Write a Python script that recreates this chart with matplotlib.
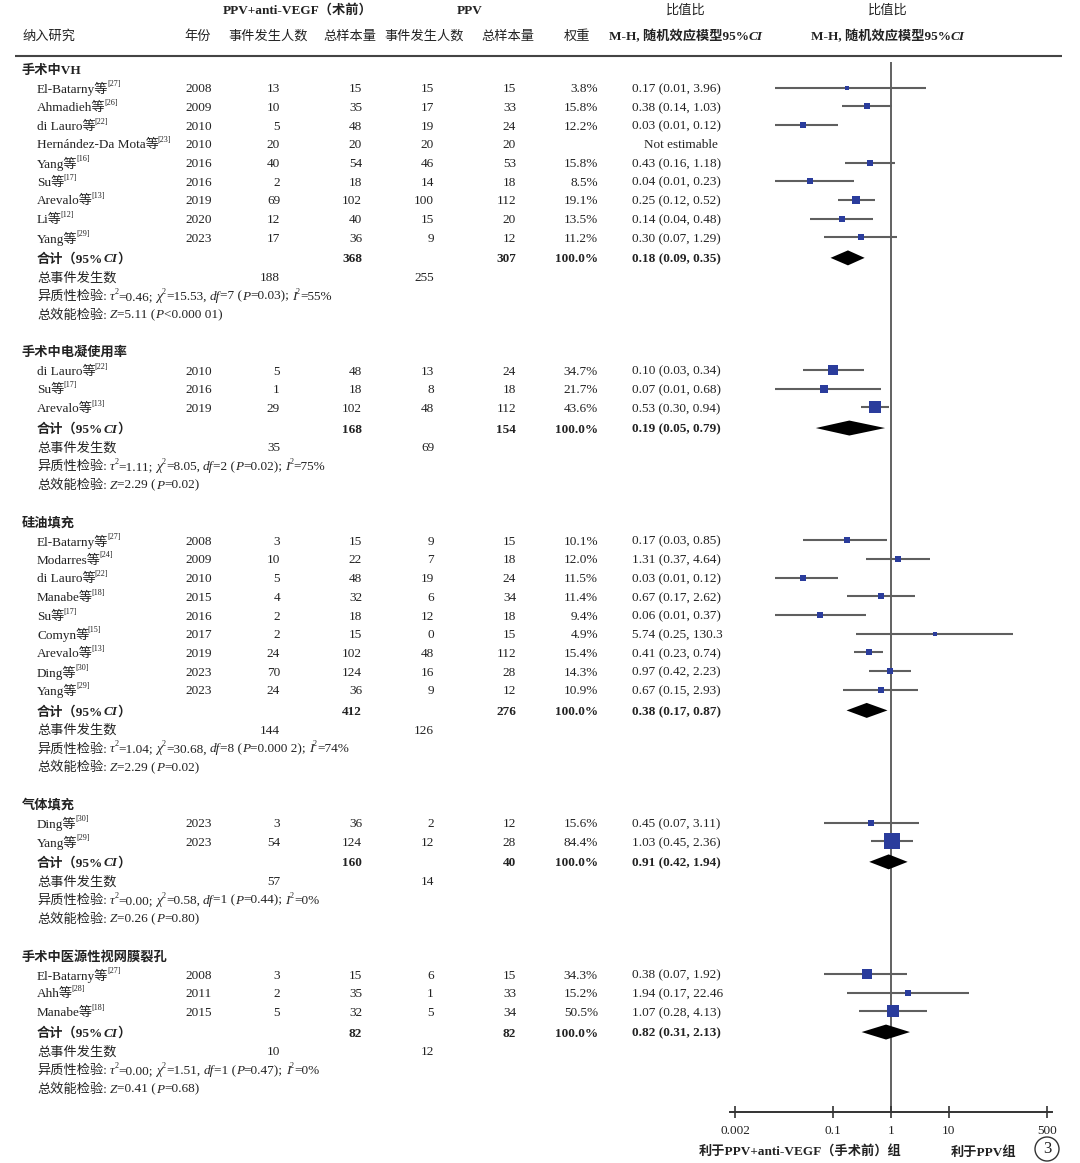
import matplotlib
matplotlib.use('Agg')
import matplotlib.pyplot as plt
from matplotlib.ticker import NullLocator
from matplotlib.patches import Circle

# ---------------- data ----------------
section_titles = ["手术中VH", "手术中电凝使用率", "硅油填充", "气体填充", "手术中医源性视网膜裂孔"]

s1_names = ["El-Batarny", "Ahmadieh", "di Lauro", "Hernández-Da Mota", "Yang", "Su", "Arevalo", "Li", "Yang"]
s1_refs = ["27", "26", "22", "23", "16", "17", "13", "12", "29"]
s1_years = [2008, 2009, 2010, 2010, 2016, 2016, 2019, 2020, 2023]
s1_ev1 = [13, 10, 5, 20, 40, 2, 69, 12, 17]
s1_n1 = [15, 35, 48, 20, 54, 18, 102, 40, 36]
s1_ev2 = [15, 17, 19, 20, 46, 14, 100, 15, 9]
s1_n2 = [15, 33, 24, 20, 53, 18, 112, 20, 12]
s1_w = [3.8, 15.8, 12.2, None, 15.8, 8.5, 19.1, 13.5, 11.2]
s1_or = [0.17, 0.38, 0.03, None, 0.43, 0.04, 0.25, 0.14, 0.30]
s1_lo = [0.01, 0.14, 0.01, None, 0.16, 0.01, 0.12, 0.04, 0.07]
s1_hi = [3.96, 1.03, 0.12, None, 1.18, 0.23, 0.52, 0.48, 1.29]
s1_pool = (0.18, 0.09, 0.35)
s1_het = ("0.46", "15.53", "7", "0.03", "55%")
s1_z = ("5.11", "<0.000 01")

s2_names = ["di Lauro", "Su", "Arevalo"]
s2_refs = ["22", "17", "13"]
s2_years = [2010, 2016, 2019]
s2_ev1 = [5, 1, 29]
s2_n1 = [48, 18, 102]
s2_ev2 = [13, 8, 48]
s2_n2 = [24, 18, 112]
s2_w = [34.7, 21.7, 43.6]
s2_or = [0.10, 0.07, 0.53]
s2_lo = [0.03, 0.01, 0.30]
s2_hi = [0.34, 0.68, 0.94]
s2_pool = (0.19, 0.05, 0.79)
s2_het = ("1.11", "8.05", "2", "0.02", "75%")
s2_z = ("2.29", "=0.02")

s3_names = ["El-Batarny", "Modarres", "di Lauro", "Manabe", "Su", "Comyn", "Arevalo", "Ding", "Yang"]
s3_refs = ["27", "24", "22", "18", "17", "15", "13", "30", "29"]
s3_years = [2008, 2009, 2010, 2015, 2016, 2017, 2019, 2023, 2023]
s3_ev1 = [3, 10, 5, 4, 2, 2, 24, 70, 24]
s3_n1 = [15, 22, 48, 32, 18, 15, 102, 124, 36]
s3_ev2 = [9, 7, 19, 6, 12, 0, 48, 16, 9]
s3_n2 = [15, 18, 24, 34, 18, 15, 112, 28, 12]
s3_w = [10.1, 12.0, 11.5, 11.4, 9.4, 4.9, 15.4, 14.3, 10.9]
s3_or = [0.17, 1.31, 0.03, 0.67, 0.06, 5.74, 0.41, 0.97, 0.67]
s3_lo = [0.03, 0.37, 0.01, 0.17, 0.01, 0.25, 0.23, 0.42, 0.15]
s3_hi = [0.85, 4.64, 0.12, 2.62, 0.37, 130.3, 0.74, 2.23, 2.93]
s3_pool = (0.38, 0.17, 0.87)
s3_het = ("1.04", "30.68", "8", "0.000 2", "74%")
s3_z = ("2.29", "=0.02")

s4_names = ["Ding", "Yang"]
s4_refs = ["30", "29"]
s4_years = [2023, 2023]
s4_ev1 = [3, 54]
s4_n1 = [36, 124]
s4_ev2 = [2, 12]
s4_n2 = [12, 28]
s4_w = [15.6, 84.4]
s4_or = [0.45, 1.03]
s4_lo = [0.07, 0.45]
s4_hi = [3.11, 2.36]
s4_pool = (0.91, 0.42, 1.94)
s4_het = ("0.00", "0.58", "1", "0.44", "0%")
s4_z = ("0.26", "=0.80")

s5_names = ["El-Batarny", "Ahh", "Manabe"]
s5_refs = ["27", "28", "18"]
s5_years = [2008, 2011, 2015]
s5_ev1 = [3, 2, 5]
s5_n1 = [15, 35, 32]
s5_ev2 = [6, 1, 5]
s5_n2 = [15, 33, 34]
s5_w = [34.3, 15.2, 50.5]
s5_or = [0.38, 1.94, 1.07]
s5_lo = [0.07, 0.17, 0.28]
s5_hi = [1.92, 22.46, 4.13]
s5_pool = (0.82, 0.31, 2.13)
s5_het = ("0.00", "1.51", "1", "0.47", "0%")
s5_z = ("0.41", "=0.68")

tick_values = [0.002, 0.1, 1, 10, 500]
tick_labels = ["0.002", "0.1", "1", "10", "500"]

sections = [
    (s1_names, s1_refs, s1_years, s1_ev1, s1_n1, s1_ev2, s1_n2, s1_w, s1_or, s1_lo, s1_hi, s1_pool, s1_het, s1_z),
    (s2_names, s2_refs, s2_years, s2_ev1, s2_n1, s2_ev2, s2_n2, s2_w, s2_or, s2_lo, s2_hi, s2_pool, s2_het, s2_z),
    (s3_names, s3_refs, s3_years, s3_ev1, s3_n1, s3_ev2, s3_n2, s3_w, s3_or, s3_lo, s3_hi, s3_pool, s3_het, s3_z),
    (s4_names, s4_refs, s4_years, s4_ev1, s4_n1, s4_ev2, s4_n2, s4_w, s4_or, s4_lo, s4_hi, s4_pool, s4_het, s4_z),
    (s5_names, s5_refs, s5_years, s5_ev1, s5_n1, s5_ev2, s5_n2, s5_w, s5_or, s5_lo, s5_hi, s5_pool, s5_het, s5_z),
]

# ---------------- style / layout ----------------
FAM = ['Liberation Serif', 'Noto Sans CJK SC']
TXT = '#222222'
FS = 9.5
W, H = 1080, 1163

X_NAME_SEC = 22
X_NAME = 37
X_YEAR = 212
X_EV1 = 280
X_N1 = 362
X_EV2 = 434
X_N2 = 516
X_W = 598
X_OR = 632
AX_Y = 1112

fig = plt.figure(figsize=(W / 100, H / 100), dpi=100)
ax0 = fig.add_axes([0, 0, 1, 1])
ax0.set_xlim(0, W)
ax0.set_ylim(H, 0)
ax0.axis('off')
renderer = fig.canvas.get_renderer()


def runs(x, y, parts, ha='left', size=FS, weight='normal', color=TXT):
    texts = []
    cur = x
    for p in parts:
        if isinstance(p, (int, float)):
            cur += p
            continue
        if isinstance(p, tuple):
            s, opt = p
        else:
            s, opt = p, {}
        sup = opt.get('sup', False)
        fs = size * 0.62 if sup else size
        dy = -4.5 if sup else 0
        t = ax0.text(cur, y + dy, s, fontsize=fs, family=FAM,
                     fontweight=opt.get('weight', weight),
                     fontstyle=opt.get('style', 'normal'),
                     color=color, ha='left', va='center_baseline')
        bb = t.get_window_extent(renderer)
        cur += bb.width
        texts.append(t)
    total = cur - x
    shift = 0 if ha == 'left' else (-total / 2 if ha == 'center' else -total)
    if shift:
        for t in texts:
            px, py = t.get_position()
            t.set_x(px + shift)
    return total


def txt(x, y, s, ha='right', weight='normal', size=FS):
    ax0.text(x, y, s, ha=ha, va='center_baseline', fontsize=size, family=FAM,
             fontweight=weight, color=TXT)


IT = {'style': 'italic'}
SUP = {'sup': True}

# headers
runs(298, 9, ["PPV+anti-VEGF（术前）"], ha='center', weight='bold')
runs(470, 9, ["PPV"], ha='center', weight='bold')
runs(686, 9, ["比值比"], ha='center')
runs(888, 9, ["比值比"], ha='center')
runs(X_NAME_SEC, 35, ["纳入研究"])
for cx, lab in [(198, "年份"), (268, "事件发生人数"), (350, "总样本量"),
                (424, "事件发生人数"), (508, "总样本量"), (577, "权重")]:
    runs(cx, 35, [lab], ha='center')
for cx in (686, 888):
    runs(cx, 35, ["M-H, 随机效应模型95%", ("CI", {'style': 'italic', 'weight': 'bold'})],
         ha='center', weight='bold')
ax0.hlines(56, 15, 1062, color='#444444', lw=1.5)

# forest axes
px_per_dec = 312 / 5.398
margin = 10 ** (5 / px_per_dec)
axf = fig.add_axes([730 / W, (H - AX_Y) / H, 322 / W, AX_Y / H])
axf.set_xscale('log')
axf.set_xlim(tick_values[0] / margin, tick_values[-1] * margin)
axf.set_ylim(AX_Y, 0)
axf.patch.set_alpha(0)
for sp in ('top', 'left', 'right'):
    axf.spines[sp].set_visible(False)
axf.spines['bottom'].set_color('#333333')
axf.spines['bottom'].set_linewidth(1.4)
axf.set_xticks(tick_values)
axf.set_xticklabels(tick_labels)
axf.xaxis.set_minor_locator(NullLocator())
axf.set_yticks([])
axf.tick_params(axis='x', direction='inout', length=8, width=1.2, colors='#333333',
                labelsize=FS, pad=5)
for lab in axf.get_xticklabels():
    lab.set_family(FAM)
    lab.set_color(TXT)
axf.vlines(1, 62, AX_Y, color='#555555', lw=1.3, zorder=1)

# rows
u = 18.7
y = 69
for si, sec in enumerate(sections):
    (names, refs, years, ev1, n1, ev2, n2, w, orv, lo, hi, pool, het, zz) = sec
    if si > 0:
        y += 2 * u
    runs(X_NAME_SEC, y, [section_titles[si]], weight='bold')
    for i in range(len(names)):
        y += u
        runs(X_NAME, y, [names[i] + "等", -1.5, ("[" + refs[i] + "]", SUP)])
        txt(X_YEAR, y, str(years[i]))
        txt(X_EV1, y, str(ev1[i]))
        txt(X_N1, y, str(n1[i]))
        txt(X_EV2, y, str(ev2[i]))
        txt(X_N2, y, str(n2[i]))
        if w[i] is None:
            txt(718, y, "Not estimable")
        else:
            txt(X_W, y, f"{w[i]:.1f}%")
            s = f"{orv[i]:.2f} ({lo[i]:.2f}, {hi[i]:.2f})"[:17]
            txt(X_OR, y, s, ha='left')
            axf.hlines(y, lo[i], hi[i], color='#5f5f5f', lw=1.5, zorder=2)
            side = 1.75 * (w[i] ** 0.5)
            axf.plot(orv[i], y, 's', ms=side * 0.72, color='#2a3c9c', mew=0, zorder=3)
    # total
    y += u * 1.1
    runs(X_NAME, y, ["合计（95%", ("CI", {'style': 'italic', 'weight': 'bold'}), "）"], weight='bold')
    txt(X_N1, y, str(sum(n1)), weight='bold')
    txt(X_N2, y, str(sum(n2)), weight='bold')
    txt(X_W, y, "100.0%", weight='bold')
    txt(X_OR, y, f"{pool[0]:.2f} ({pool[1]:.2f}, {pool[2]:.2f})", ha='left', weight='bold')
    axf.fill([pool[1], pool[0], pool[2], pool[0]], [y, y - 7.5, y, y + 7.5], color='black',
             lw=0, zorder=3)
    y += u
    runs(X_NAME, y, ["总事件发生数"])
    txt(X_EV1, y, str(sum(ev1)))
    txt(X_EV2, y, str(sum(ev2)))
    y += u
    runs(X_NAME, y, ["异质性检验:", 3, ("τ", IT), ("2", SUP), "=" + het[0] + ";", 3,
                     ("χ", IT), ("2", SUP), "=" + het[1] + ",", 3, ("df", IT),
                     "=" + het[2] + " (", ("P", IT), "=" + het[3] + ");", 3,
                     ("I", IT), ("2", SUP), "=" + het[4]])
    y += u
    runs(X_NAME, y, ["总效能检验:", 3, ("Z", IT), "=" + zz[0] + " (", ("P", IT), zz[1] + ")"])

# bottom labels
runs(800, 1151, ["利于PPV+anti-VEGF（手术前）组"], ha='center', weight='bold')
runs(984, 1151, ["利于PPV组"], ha='center', weight='bold')
ax0.add_patch(Circle((1047, 1149), 12, fill=False, ec='#333333', lw=1))
ax0.text(1047, 1149, "3", ha='center', va='center', fontsize=12, family=FAM, color=TXT)

fig.savefig('out.png', dpi=100)
